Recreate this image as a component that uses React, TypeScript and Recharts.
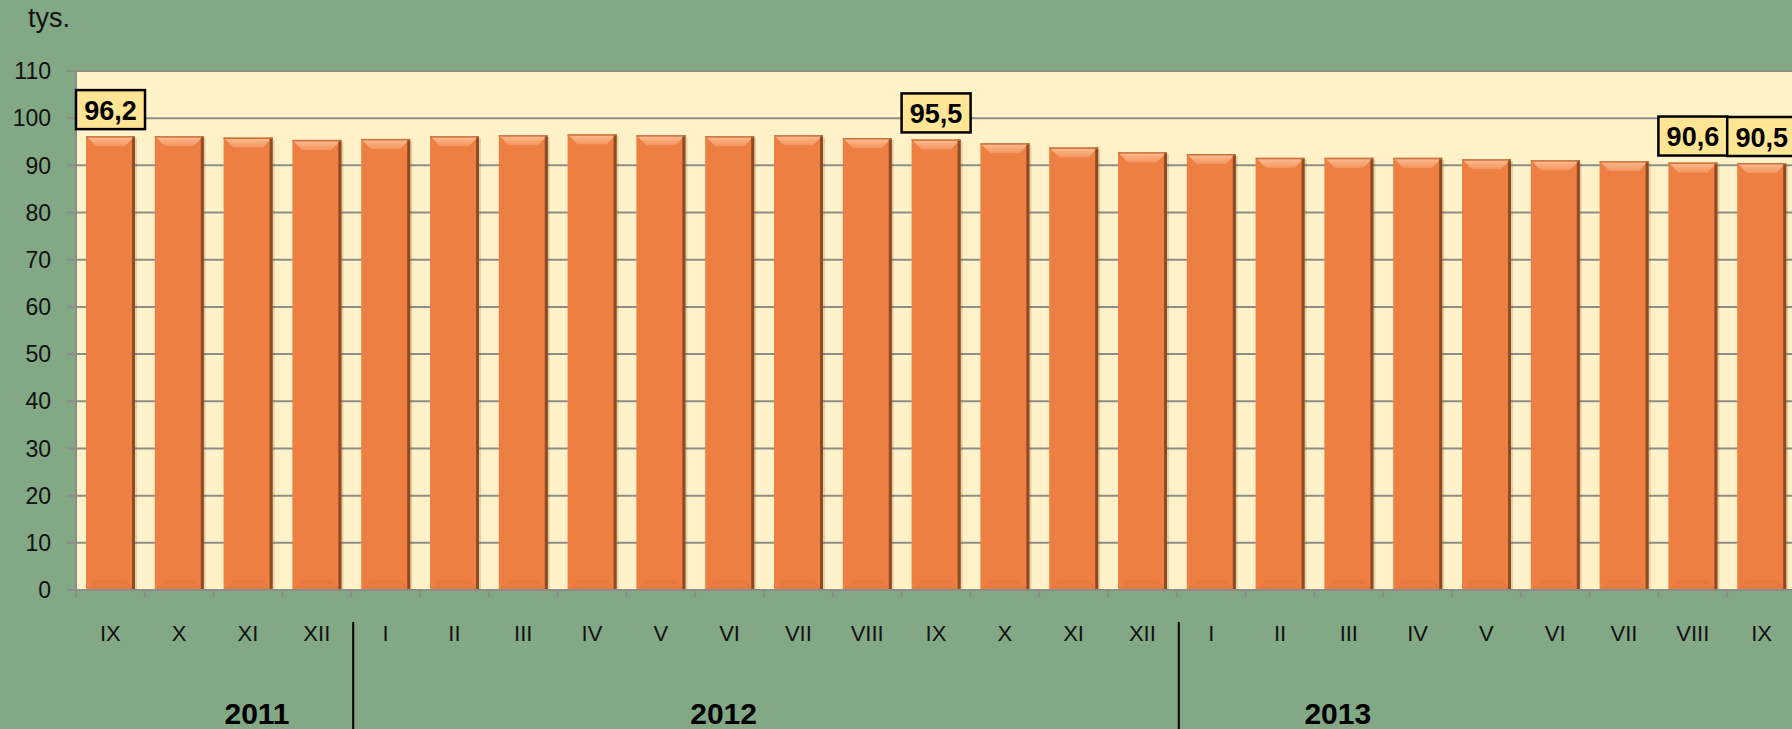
import { BarChart, Bar, XAxis, YAxis, CartesianGrid, LabelList } from "recharts";

const months = [
  "IX", "X", "XI", "XII",
  "I", "II", "III", "IV", "V", "VI", "VII", "VIII", "IX", "X", "XI", "XII",
  "I", "II", "III", "IV", "V", "VI", "VII", "VIII", "IX",
];
const values = [
  96.2, 96.2, 95.9, 95.4,
  95.6, 96.2, 96.4, 96.6, 96.4, 96.2, 96.4, 95.8, 95.5, 94.7, 93.8, 92.8,
  92.4, 91.6, 91.6, 91.6, 91.3, 91.1, 90.9, 90.6, 90.5,
];
const yearLabels = ["2011", "2012", "2013"];
const yearStarts = [0, 4, 16];
const yearLabelAt = [2, 9, 18];
const labelledBars = [0, 12, 23, 24];
const yTicks = [0, 10, 20, 30, 40, 50, 60, 70, 80, 90, 100, 110];

const W = 1800;
const H = 729;
const AXIS_W = 76;
const TOP = 71;
const X_AXIS_H = 139;
const PLOT_BOTTOM = H - X_AXIS_H;
const STEP = (W - AXIS_W - 4) / months.length;
const FONT = "'Liberation Sans', Arial, sans-serif";
// year captions sit a little off the centre of their tick in the original
const YEAR_SHIFT = [9, -6, -11];

const data = months.map((m, i) => ({ month: m, value: values[i] }));

function BevelBar(props: any) {
  const { x, y, width, height } = props;
  if (!height || height <= 0) return null;
  const b = 10;
  return (
    <g>
      <rect x={x + 2} y={y + 2} width={width} height={height - 2} fill="rgba(90,60,20,0.18)" />
      <rect x={x} y={y} width={width} height={height} fill="#EE7F43" />
      <polygon
        points={`${x},${y} ${x + width},${y} ${x + width - b},${y + b} ${x + b},${y + b}`}
        fill="url(#bevelTop)"
      />
      <polygon
        points={`${x},${y + height} ${x + width},${y + height} ${x + width - b},${y + height - b} ${x + b},${y + height - b}`}
        fill="#E9793E"
      />
      <rect x={x + width - 3} y={y} width={3} height={height} fill="#8E4B23" />
      <rect x={x} y={y} width={width} height={1.5} fill="#C9733F" />
    </g>
  );
}

function ValueBox(props: any) {
  const { x, y, width, value, index } = props;
  if (!labelledBars.includes(index)) return null;
  const cx = x + width / 2;
  const bw = 69;
  const bh = 39;
  const top = y - 7 - bh;
  return (
    <g>
      <rect x={cx - bw / 2} y={top} width={bw} height={bh} fill="#FFE594" stroke="#000" strokeWidth={2.5} />
      <text
        x={cx}
        y={top + bh / 2 + 1}
        textAnchor="middle"
        dominantBaseline="central"
        fontFamily={FONT}
        fontWeight="bold"
        fontSize={27}
        fill="#000"
      >
        {Number(value).toFixed(1).replace(".", ",")}
      </text>
    </g>
  );
}

function MonthTick(props: any) {
  const { x, payload } = props;
  const i = payload.index;
  const left = x - STEP / 2;
  const yi = yearLabelAt.indexOf(i);
  const startsYear = yearStarts.includes(i) && i > 0;
  return (
    <g>
      <line x1={left} x2={left} y1={PLOT_BOTTOM} y2={PLOT_BOTTOM + 8} stroke="#8E8E88" strokeWidth={2} />
      <text x={x} y={641} textAnchor="middle" fontFamily={FONT} fontSize={22} fill="#111">
        {payload.value}
      </text>
      {yi >= 0 && (
        <text
          x={x + YEAR_SHIFT[yi]}
          y={724}
          textAnchor="middle"
          fontFamily={FONT}
          fontWeight="bold"
          fontSize={30}
          fill="#000"
        >
          {yearLabels[yi]}
        </text>
      )}
      {startsYear && <line x1={left + 2} x2={left + 2} y1={622} y2={H} stroke="#000" strokeWidth={2} />}
    </g>
  );
}

export default function App() {
  return (
    <div
      style={{
        position: "absolute",
        left: 0,
        top: 0,
        width: 1792,
        height: H,
        overflow: "hidden",
        background: "#82A886",
      }}
    >
      <div
        style={{
          position: "absolute",
          left: 28,
          top: 3,
          fontFamily: FONT,
          fontSize: 27,
          color: "#111",
        }}
      >
        tys.
      </div>
      <BarChart
        width={W}
        height={H}
        data={data}
        margin={{ top: TOP, right: 4, bottom: 0, left: 0 }}
        barSize={49}
      >
        <defs>
          <linearGradient id="bevelTop" x1="0" y1="0" x2="0" y2="1">
            <stop offset="0%" stopColor="#FDBE92" />
            <stop offset="100%" stopColor="#F39660" />
          </linearGradient>
        </defs>
        <CartesianGrid vertical={false} fill="#FFF2C8" stroke="#8E8E88" strokeWidth={2} />
        <XAxis
          dataKey="month"
          height={X_AXIS_H}
          interval={0}
          tickLine={false}
          axisLine={{ stroke: "#8E8E88", strokeWidth: 2 }}
          tick={<MonthTick />}
        />
        <YAxis
          width={AXIS_W}
          domain={[0, 110]}
          ticks={yTicks}
          interval={0}
          tickSize={9}
          tickMargin={16}
          tickLine={{ stroke: "#8E8E88", strokeWidth: 2 }}
          axisLine={{ stroke: "#8E8E88", strokeWidth: 2 }}
          tick={{ fontFamily: FONT, fontSize: 23, fill: "#111" }}
        />
        <Bar dataKey="value" shape={<BevelBar />} isAnimationActive={false}>
          <LabelList dataKey="value" content={<ValueBox />} />
        </Bar>
      </BarChart>
    </div>
  );
}
